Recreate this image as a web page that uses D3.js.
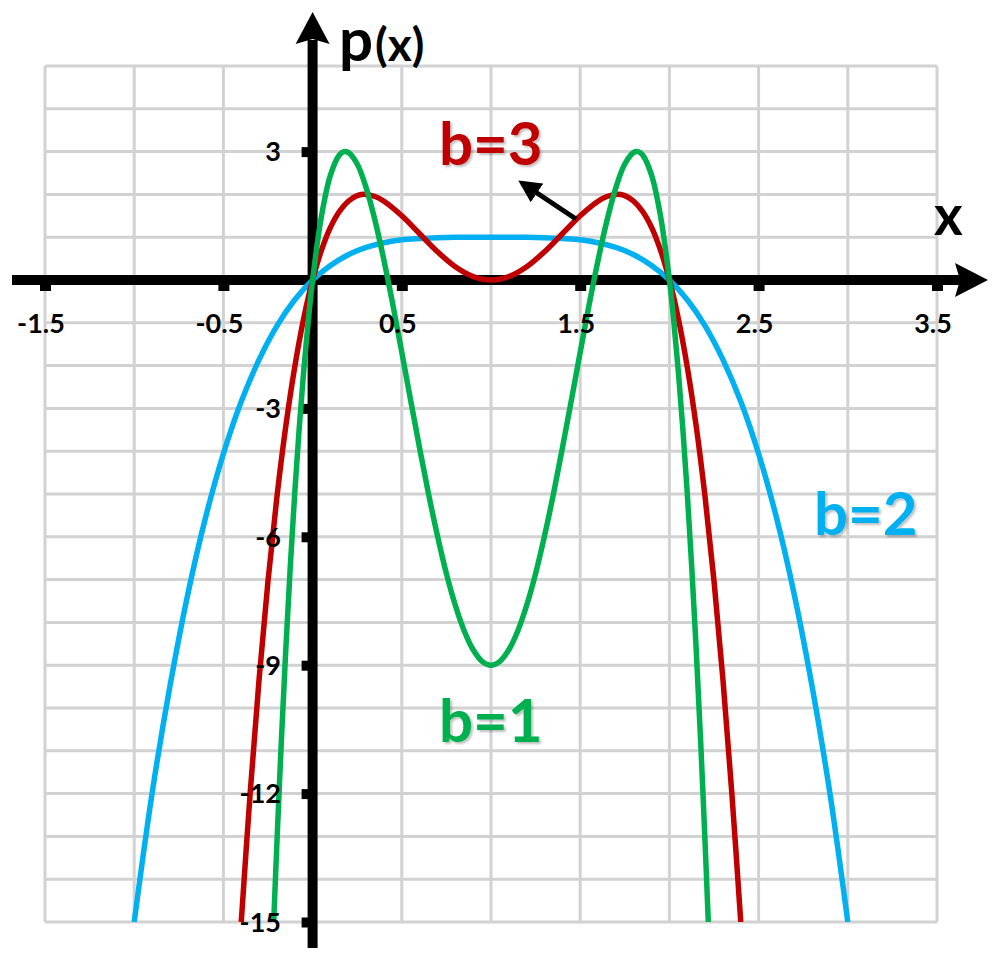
<!DOCTYPE html>
<html>
<head>
<meta charset="utf-8">
<script src="https://cdn.jsdelivr.net/npm/d3@7/dist/d3.min.js"></script>
<style>
  html, body { margin: 0; padding: 0; background: #fff; }
  svg { display: block; }
  text { font-family: Lato, "Noto Sans", sans-serif; font-weight: 700; }
</style>
</head>
<body>
<svg id="chart" width="1000" height="961"></svg>
<script>
// ---------- data ----------
const xTickValues = [-1.5, -0.5, 0.5, 1.5, 2.5, 3.5];
const xTickLabels = ["-1.5", "-0.5", "0.5", "1.5", "2.5", "3.5"];
const yTickValues = [3, -3, -6, -9, -12, -15];
const yTickLabels = ["3", "-3", "-6", "-9", "-12", "-15"];

const seriesNames = ["b=2", "b=3", "b=1"];
const seriesColors = ["#00b0f0", "#c00000", "#00b050"];

// b = 2 (blue)
const b2_x = [-1.0,-0.9,-0.8,-0.7,-0.6,-0.5,-0.4,-0.3,-0.2,-0.1,0,0.1,0.2,0.3,0.4,0.5,0.6,0.7,0.8,0.9,1.0,
              1.1,1.2,1.3,1.4,1.5,1.6,1.7,1.8,1.9,2.0,2.1,2.2,2.3,2.4,2.5,2.6,2.7,2.8,2.9,3.0];
const b2_y = [-15.0,-12.0,-9.5,-7.35,-5.55,-4.06,-2.84,-1.86,-1.07,-0.46,0,0.34,0.59,0.76,0.87,0.94,0.97,0.99,1.0,1.0,1.0,
              1.0,1.0,0.99,0.97,0.94,0.87,0.76,0.59,0.34,0,-0.46,-1.07,-1.86,-2.84,-4.06,-5.55,-7.35,-9.5,-12.0,-15.0];

// b = 3 (red)
const b3_x = [-0.4,-0.35,-0.3,-0.25,-0.2,-0.15,-0.1,-0.05,0,0.05,0.1,0.15,0.2,0.25,0.3,0.35,0.4,0.5,0.6,0.7,0.8,0.9,1.0,
              1.1,1.2,1.3,1.4,1.5,1.6,1.65,1.7,1.75,1.8,1.85,1.9,1.95,2.0,2.05,2.1,2.15,2.2,2.25,2.3,2.35,2.4];
const b3_y = [-15.0,-11.99,-9.33,-7.03,-5.07,-3.41,-2.03,-0.90,0,0.70,1.23,1.60,1.84,1.97,2.0,1.95,1.84,1.5,1.08,0.66,0.31,0.08,0,
              0.08,0.31,0.66,1.08,1.5,1.84,1.95,2.0,1.97,1.84,1.60,1.23,0.70,0,-0.90,-2.03,-3.41,-5.07,-7.03,-9.33,-11.99,-15.0];

// b = 1 (green)
const b1_x = [-0.22,-0.2,-0.175,-0.15,-0.125,-0.1,-0.075,-0.05,-0.025,0,0.05,0.1,0.15,0.175,0.2,0.25,0.3,0.35,0.4,0.45,0.5,
              0.55,0.6,0.65,0.7,0.75,0.8,0.85,0.9,0.95,1.0,1.05,1.1,1.15,1.2,1.25,1.3,1.35,1.4,1.45,1.5,1.55,1.6,1.65,
              1.7,1.75,1.8,1.825,1.85,1.9,1.95,2.0,2.025,2.05,2.075,2.1,2.125,2.15,2.175,2.2,2.22];
const b1_y = [-15.2,-13.15,-10.76,-8.61,-6.69,-4.97,-3.46,-2.13,-0.98,0,1.50,2.45,2.92,3.0,2.98,2.71,2.16,1.39,0.46,-0.58,-1.69,
              -2.82,-3.93,-5.00,-5.98,-6.86,-7.60,-8.20,-8.64,-8.91,-9.0,-8.91,-8.64,-8.20,-7.60,-6.86,-5.98,-5.00,-3.93,-2.82,-1.69,-0.58,0.46,1.39,
              2.16,2.71,2.98,3.0,2.92,2.45,1.50,0,-0.98,-2.13,-3.46,-4.97,-6.69,-8.61,-10.76,-13.15,-15.2];

// ---------- drawing ----------
const svg = d3.select("#chart");
const x = d3.scaleLinear().domain([-1.5, 3.5]).range([45, 937]);
const y = d3.scaleLinear().domain([5, -15]).range([66, 922]);

const defs = svg.append("defs");
defs.append("clipPath").attr("id", "plotClip")
  .append("rect").attr("x", 0).attr("y", y(5)).attr("width", 1000).attr("height", y(-15) - y(5));
const f = defs.append("filter").attr("id", "shadow").attr("x", "-10%").attr("y", "-10%").attr("width", "130%").attr("height", "130%");
f.append("feDropShadow").attr("dx", 2).attr("dy", 2).attr("stdDeviation", 1.2)
  .attr("flood-color", "#000").attr("flood-opacity", 0.25);

// grid
const grid = svg.append("g").attr("stroke", "#d2d2d2").attr("stroke-width", 3);
x.ticks(10).forEach(v => {
  grid.append("line").attr("x1", x(v)).attr("x2", x(v)).attr("y1", y(5)).attr("y2", y(-15));
});
y.ticks(20).forEach(v => {
  grid.append("line").attr("x1", x(-1.5)).attr("x2", x(3.5)).attr("y1", y(v)).attr("y2", y(v));
});

// axes lines + arrows
const X0 = x(0), Y0 = y(0);
svg.append("line").attr("x1", 12).attr("x2", 960).attr("y1", Y0).attr("y2", Y0)
  .attr("stroke", "#000").attr("stroke-width", 10);
svg.append("path").attr("d", `M988,${Y0} L955,${Y0-17} L960,${Y0} L955,${Y0+17} Z`).attr("fill", "#000");
svg.append("line").attr("x1", X0).attr("x2", X0).attr("y1", 948).attr("y2", 40)
  .attr("stroke", "#000").attr("stroke-width", 10);
svg.append("path").attr("d", `M${X0},12 L${X0+17},44 L${X0},39 L${X0-17},44 Z`).attr("fill", "#000");

// axis ticks (d3 axes)
const xAxis = d3.axisBottom(x).tickValues(xTickValues).tickSize(11).tickPadding(22)
  .tickFormat((d, i) => xTickLabels[i]);
const gx = svg.append("g").attr("transform", `translate(0,${Y0})`).call(xAxis);
gx.select(".domain").remove();
gx.selectAll(".tick line").attr("stroke", "#000").attr("stroke-width", 11);
const xLabels = gx.selectAll(".tick text").remove();

const yAxis = d3.axisLeft(y).tickValues(yTickValues).tickSize(11).tickPadding(22)
  .tickFormat((d, i) => yTickLabels[i]);
const gy = svg.append("g").attr("transform", `translate(${X0},0)`).call(yAxis);
gy.select(".domain").remove();
gy.selectAll(".tick line").attr("stroke", "#000").attr("stroke-width", 10);
gy.selectAll(".tick text").remove();

// curves
const line = d3.line().x(d => x(d[0])).y(d => y(d[1])).curve(d3.curveCatmullRom.alpha(0.5));
const seriesData = [
  d3.zip(b2_x, b2_y),
  d3.zip(b3_x, b3_y),
  d3.zip(b1_x, b1_y)
];
const curves = svg.append("g").attr("clip-path", "url(#plotClip)");
seriesData.forEach((pts, i) => {
  curves.append("path").attr("d", line(pts)).attr("fill", "none")
    .attr("stroke", seriesColors[i]).attr("stroke-width", 5.5)
    .attr("stroke-linejoin", "round").attr("stroke-linecap", "butt");
});

// tick labels (on top)
const tl = svg.append("g").attr("fill", "#000").style("font-size", "27px");
xTickValues.forEach((v, i) => {
  tl.append("text").attr("x", x(v) - 4).attr("y", 333).attr("text-anchor", "middle").text(xTickLabels[i]);
});
yTickValues.forEach((v, i) => {
  tl.append("text").attr("x", 281).attr("y", y(v)).attr("dy", "0.36em").attr("text-anchor", "end").text(yTickLabels[i]);
});

// axis titles
const pt = svg.append("text").attr("x", 339).attr("y", 61).attr("fill", "#000");
pt.append("tspan").style("font-size", "60px").text("p");
pt.append("tspan").style("font-size", "46px").attr("dx", 2).text("(x)");
svg.append("text").attr("x", 934).attr("y", 235).style("font-size", "55px").attr("fill", "#000").text("x");

// series labels
const labelPos = [[814, 535], [439, 165], [439, 742]];
seriesNames.forEach((n, i) => {
  svg.append("text").attr("x", labelPos[i][0]).attr("y", labelPos[i][1])
    .style("font-size", "60px").attr("fill", seriesColors[i]).attr("filter", "url(#shadow)").text(n);
});

// pointer arrow to b=3 curve
defs.append("marker").attr("id", "ah").attr("viewBox", "0 0 10 10").attr("refX", 8).attr("refY", 5)
  .attr("markerWidth", 4.5).attr("markerHeight", 4.5).attr("orient", "auto")
  .append("path").attr("d", "M0,0 L10,5 L0,10 Z").attr("fill", "#000");
svg.append("line").attr("x1", 576).attr("y1", 219).attr("x2", 522).attr("y2", 183)
  .attr("stroke", "#000").attr("stroke-width", 5).attr("marker-end", "url(#ah)");
</script>
</body>
</html>
